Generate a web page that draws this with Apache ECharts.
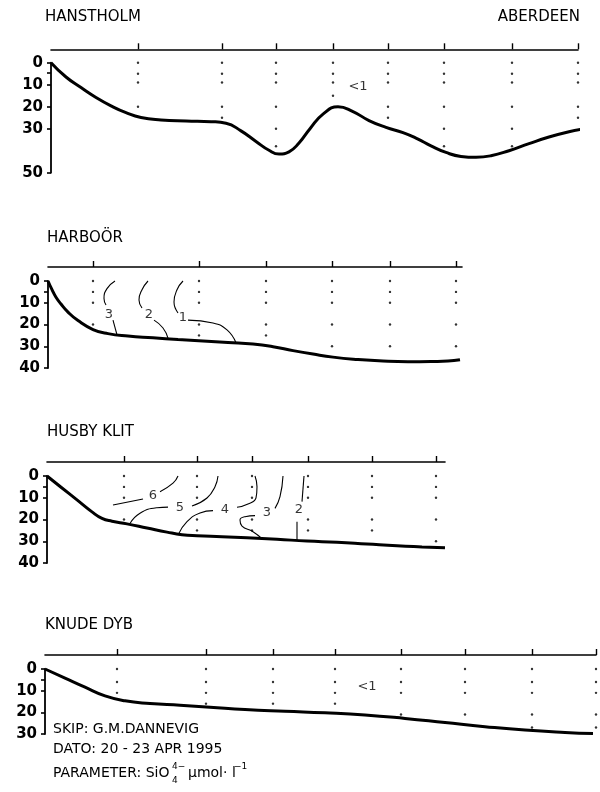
<!DOCTYPE html>
<html>
  <head>
    <meta charset="UTF-8" />
    <title>SiO4 snit - G.M.Dannevig april 1995</title>
    <style>
      html, body { margin: 0; padding: 0; background: #fff; }
      #chart { width: 600px; height: 792px; }
    </style>
    <script src="https://cdn.jsdelivr.net/npm/echarts@6/dist/echarts.min.js"></script>
  </head>
  <body>
    <div id="chart"></div>
    <script>
      // x = distance along the section (km from the coast), y = depth (m)

      // Hanstholm - Aberdeen
      var hanStations = [87, 171, 225, 282, 337, 393, 461, 527];
      var hanSamples = [[0, 5, 9, 20], [0, 5, 9, 20, 25], [0, 5, 9, 20, 30, 38], [0, 5, 9, 15],
        [0, 5, 9, 20, 25], [0, 5, 9, 20, 30, 38], [0, 5, 9, 20, 30, 38], [0, 5, 9, 20, 25]];
      var hanBottom = [[0, 0], [15, 6.5], [30, 11.3], [45, 15.8], [60, 19.6], [75, 22.7], [90, 24.9],
        [110, 26], [135, 26.5], [160, 26.8], [175, 27.5], [190, 31], [205, 35.8], [218, 39.8],
        [228, 41.5], [238, 40.5], [248, 36.5], [259, 30], [272, 23.4], [287, 20], [302, 22.2],
        [318, 26.3], [335, 29.4], [352, 31.8], [366, 34.5], [380, 37.8], [395, 40.8],
        [410, 42.6], [425, 43], [440, 42.3], [458, 40], [478, 36.8], [498, 33.8], [518, 31.4],
        [536, 29.8]];
      var hanLabels = [[307, 11, '<1']];
      var hanTicks = [0, 4.5, 10, 20, 30, 50];
      var hanTickLabels = [0, 10, 20, 30, 50];

      // Harboör
      var harStations = [45, 151, 218, 284, 342, 408];
      var harSamples = [[0, 5, 10, 20], [0, 5, 10, 20, 25], [0, 5, 10, 20, 25],
        [0, 5, 10, 20, 30], [0, 5, 10, 20, 30], [0, 5, 10, 20, 30]];
      var harBottom = [[0, 0], [4, 4], [8, 7.5], [13, 10.6], [20, 14.3], [30, 18.2], [45, 22.3],
        [60, 24.2], [80, 25.3], [105, 26.1], [130, 26.9], [155, 27.6], [180, 28.3], [205, 29],
        [225, 30.2], [245, 32], [265, 33.6], [285, 35], [310, 36.1], [335, 36.8], [360, 37.1],
        [385, 37], [400, 36.8], [412, 36.2]];
      var harIso3 = [[[67, 0], [59, 3.5], [56, 8], [58, 11]], [[65, 18], [69, 24.8]]];
      var harIso2 = [[[100, 0], [94, 4], [91, 8.7], [94, 12.4]], [[106, 18], [115, 21.6], [120, 26.3]]];
      var harIso1 = [[[135, 0], [129, 4], [126, 9.7], [130, 14.7]], [[140, 18], [165, 19.3], [179, 22.5], [188, 28.4]]];
      var harLabels = [[61, 15.5, '3'], [101, 15.5, '2'], [135, 17, '1']];
      var harTicks = [0, 5, 10, 20, 30, 40];
      var harTickLabels = [0, 10, 20, 30, 40];

      // Husby Klit
      var husStations = [77, 150, 205, 261, 325, 389];
      var husSamples = [[0, 5, 10, 20], [0, 5, 10, 20, 25], [0, 5, 10, 20, 25],
        [0, 5, 10, 20, 25], [0, 5, 10, 20, 25], [0, 5, 10, 20, 30]];
      var husBottom = [[0, 0], [15, 5.5], [30, 11], [45, 16.5], [55, 19.5], [65, 20.8], [80, 22],
        [100, 23.9], [120, 25.8], [135, 27], [150, 27.5], [175, 27.9], [200, 28.4], [230, 29.1],
        [260, 29.9], [290, 30.5], [320, 31.3], [350, 32.1], [375, 32.6], [398, 33]];
      var husIso6 = [[[66, 13.3], [96, 10.6]], [[113, 7.2], [126, 3.3], [131, 0]]];
      var husIso5 = [[[83, 21.8], [93, 17.1], [110, 14.6], [121, 14.3]], [[145, 13.8], [160, 10.1], [168, 4.9], [171, 0]]];
      var husIso4 = [[[131, 27.1], [140, 21], [153, 17], [166, 15.9]], [[190, 14.4], [201, 12.9], [209, 10.1], [210, 4.9], [208, 0]]];
      var husIso3 = [[[215, 28.8], [206, 25.6], [195, 23], [193, 20.2], [198, 18.7], [208, 18.2]], [[228, 14.9], [233, 9.5], [236, 0]]];
      var husIso2 = [[[250, 29.8], [250, 21]], [[255, 11.8], [257, 0]]];
      var husLabels = [[106, 9.2, '6'], [133, 14.6, '5'], [178, 15.3, '4'], [220, 16.9, '3'], [252, 15.6, '2']];
      var husTicks = [0, 5, 10, 20, 30, 40];
      var husTickLabels = [0, 10, 20, 30, 40];

      // Knude Dyb
      var knuStations = [72, 161, 228, 290, 356, 420, 487, 551];
      var knuSamples = [[0, 6, 11], [0, 6, 11, 16], [0, 6, 11, 16], [0, 6, 11, 16],
        [0, 6, 11, 21], [0, 6, 11, 21], [0, 6, 11, 21, 27], [0, 6, 11, 21, 27]];
      var knuBottom = [[0, 0], [20, 4.2], [40, 8.4], [60, 12.4], [80, 14.7], [105, 15.9],
        [135, 16.7], [165, 17.6], [200, 18.7], [240, 19.5], [280, 20.2], [320, 21.2],
        [360, 22.8], [400, 24.7], [440, 26.6], [480, 28.2], [520, 29.3], [548, 29.8]];
      var knuLabels = [[322, 8.3, '<1']];
      var knuTicks = [0, 5, 10, 20, 30];
      var knuTickLabels = [0, 10, 20, 30];

      var FONT = '"DejaVu Sans", sans-serif';

      var panels = [
        { grid: { left: 51, top: 62.7, width: 527, height: 110 }, offset: 13.4, maxDepth: 50,
          stations: hanStations, samples: hanSamples, bottom: hanBottom, contours: [],
          labels: hanLabels, ticks: hanTicks, tickLabels: hanTickLabels },
        { grid: { left: 48, top: 281, width: 414, height: 87 }, offset: 14, maxDepth: 40,
          stations: harStations, samples: harSamples, bottom: harBottom,
          contours: harIso3.concat(harIso2, harIso1),
          labels: harLabels, ticks: harTicks, tickLabels: harTickLabels },
        { grid: { left: 47, top: 476, width: 398, height: 87 }, offset: 14, maxDepth: 40,
          stations: husStations, samples: husSamples, bottom: husBottom,
          contours: husIso6.concat(husIso5, husIso4, husIso3, husIso2),
          labels: husLabels, ticks: husTicks, tickLabels: husTickLabels },
        { grid: { left: 45, top: 669, width: 551, height: 65 }, offset: 14, maxDepth: 30,
          stations: knuStations, samples: knuSamples, bottom: knuBottom, contours: [],
          labels: knuLabels, ticks: knuTicks, tickLabels: knuTickLabels }
      ];

      var grids = [], xAxes = [], yAxes = [], series = [];

      panels.forEach(function (p, i) {
        grids.push(Object.assign({ containLabel: false, outerBoundsMode: 'none' }, p.grid));

        xAxes.push({
          gridIndex: i, type: 'value', min: 0, max: p.grid.width,
          position: 'top', offset: p.offset,
          axisLine: { show: true, onZero: false, lineStyle: { color: '#000', width: 1.6 } },
          axisTick: { show: true, customValues: p.stations, length: 6, lineStyle: { color: '#000', width: 1.4 } },
          axisLabel: { show: false },
          splitLine: { show: false }
        });

        yAxes.push({
          gridIndex: i, type: 'value', inverse: true, min: 0, max: p.maxDepth,
          axisLine: { show: true, onZero: false, lineStyle: { color: '#000', width: 1.8 } },
          axisTick: { show: true, customValues: p.ticks, length: 4, lineStyle: { color: '#000', width: 1.6 } },
          axisLabel: { customValues: p.tickLabels, margin: 8, color: '#000', fontSize: 15,
            fontWeight: 'bold', fontFamily: FONT },
          splitLine: { show: false }
        });

        // sample points
        var dots = [];
        p.stations.forEach(function (x, s) {
          p.samples[s].forEach(function (d) { dots.push([x, d]); });
        });
        series.push({
          type: 'scatter', xAxisIndex: i, yAxisIndex: i, data: dots,
          symbol: 'circle', symbolSize: 2.4, itemStyle: { color: '#000' }, silent: true
        });

        // isolines
        p.contours.forEach(function (c) {
          series.push({
            type: 'line', xAxisIndex: i, yAxisIndex: i, data: c, smooth: 0.5,
            symbol: 'none', clip: false, lineStyle: { color: '#000', width: 1.1 }, silent: true
          });
        });

        // bottom profile
        series.push({
          type: 'line', xAxisIndex: i, yAxisIndex: i, data: p.bottom, smooth: 0.5,
          symbol: 'none', clip: false, lineStyle: { color: '#000', width: 3 }, silent: true
        });

        // isoline values
        series.push({
          type: 'scatter', xAxisIndex: i, yAxisIndex: i, data: p.labels, symbolSize: 0,
          silent: true,
          label: {
            show: true, position: 'inside', color: '#000', fontSize: 13, fontFamily: FONT,
            formatter: function (q) { return q.value[2]; }
          }
        });
      });

      var titleStyle = { fontSize: 15, fontWeight: 'normal', color: '#000', fontFamily: FONT };

      var myChart = echarts.init(document.getElementById('chart'));
      myChart.setOption({
        animation: false,
        backgroundColor: '#fff',
        title: [
          { text: 'HANSTHOLM', left: 45, top: 10, padding: 0, textStyle: titleStyle },
          { text: 'ABERDEEN', right: 20, top: 10, padding: 0, textStyle: titleStyle },
          { text: 'HARBOÖR', left: 47, top: 231, padding: 0, textStyle: titleStyle },
          { text: 'HUSBY KLIT', left: 47, top: 425, padding: 0, textStyle: titleStyle },
          { text: 'KNUDE DYB', left: 45, top: 618, padding: 0, textStyle: titleStyle }
        ],
        grid: grids,
        xAxis: xAxes,
        yAxis: yAxes,
        series: series,
        graphic: [
          { type: 'text', left: 53, top: 722, style: { text: 'SKIP: G.M.DANNEVIG', font: '14px ' + FONT, fill: '#000' } },
          { type: 'text', left: 53, top: 742, style: { text: 'DATO: 20 - 23 APR 1995', font: '14px ' + FONT, fill: '#000' } },
          { type: 'text', left: 53, top: 766, style: { text: 'PARAMETER: SiO', font: '14px ' + FONT, fill: '#000' } },
          { type: 'text', left: 172, top: 762, style: { text: '4\u2212', font: '9px ' + FONT, fill: '#000' } },
          { type: 'text', left: 172, top: 776, style: { text: '4', font: '9px ' + FONT, fill: '#000' } },
          { type: 'text', left: 188, top: 766, style: { text: '\u00b5mol\u00b7 l', font: '14px ' + FONT, fill: '#000' } },
          { type: 'text', left: 234, top: 762, style: { text: '\u22121', font: '9px ' + FONT, fill: '#000' } }
        ]
      });
    </script>
  </body>
</html>
